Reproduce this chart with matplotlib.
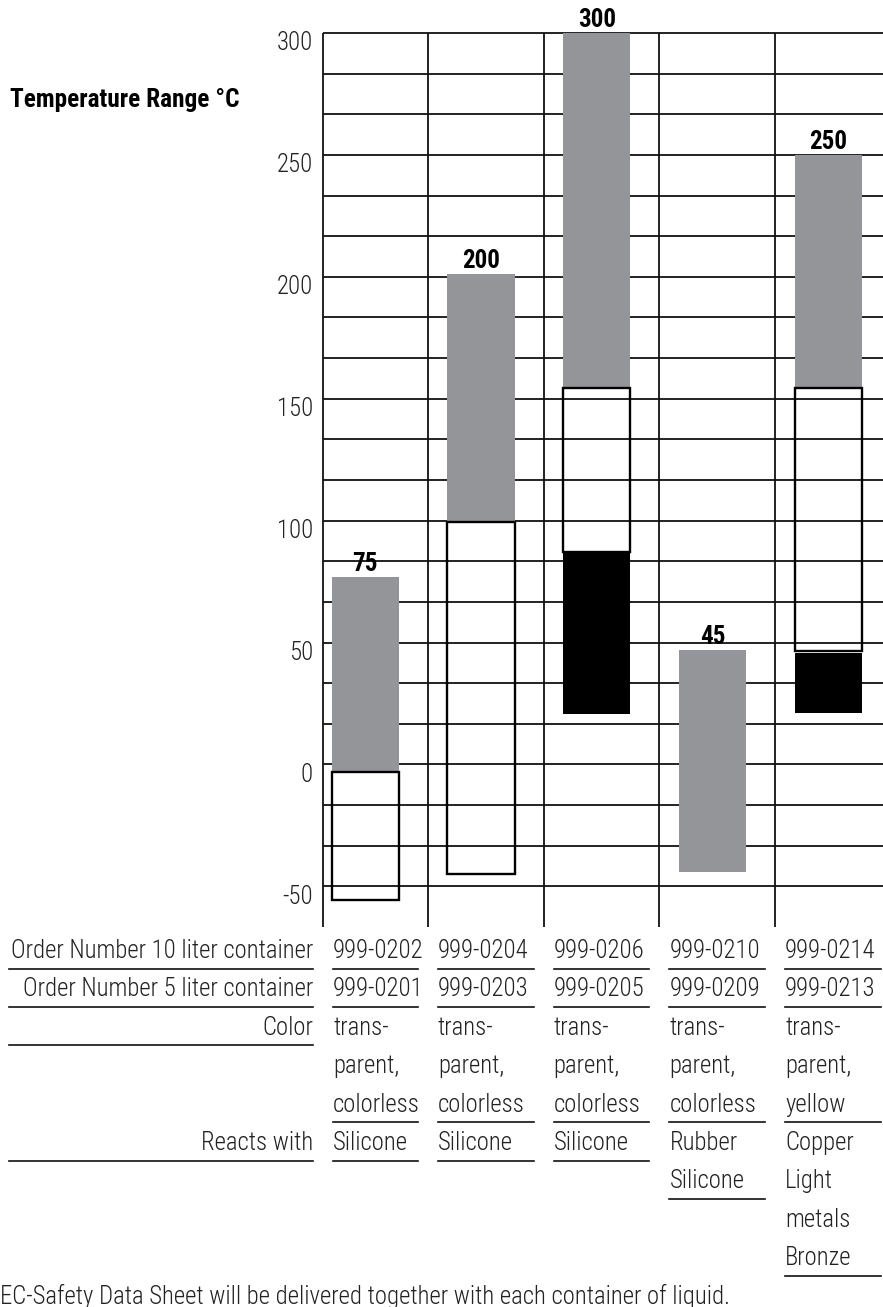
import numpy as np
import matplotlib
matplotlib.use("Agg")
import matplotlib.pyplot as plt
import matplotlib.transforms as mtransforms
from matplotlib.lines import Line2D
from matplotlib import font_manager

# pick the narrowest family that is installed
names = {f.name for f in font_manager.fontManager.ttflist}
family = 'DejaVu Sans'
for cand in ['Roboto Condensed', 'Liberation Sans Narrow', 'Open Sans Condensed', 'Noto Sans Condensed']:
    if cand in names:
        family = cand
        break
plt.rcParams['font.family'] = [family, 'DejaVu Sans']
plt.rcParams['font.stretch'] = 'condensed'

# ---- data ----
order_10l = ["999-0202", "999-0204", "999-0206", "999-0210", "999-0214"]
order_5l = ["999-0201", "999-0203", "999-0205", "999-0209", "999-0213"]
color_txt = [["trans-", "parent,", "colorless"],
             ["trans-", "parent,", "colorless"],
             ["trans-", "parent,", "colorless"],
             ["trans-", "parent,", "colorless"],
             ["trans-", "parent,", "yellow"]]
reacts = [["Silicone"], ["Silicone"], ["Silicone"],
          ["Rubber", "Silicone"], ["Copper", "Light", "metals", "Bronze"]]

max_label = [75, 200, 300, 45, 250]
gray_top = [77, 201, 300, 47, 250]
gray_low = [-3, 100, 154, -44, 154]
open_low = [-55.5, -45, 87, np.nan, 46.5]
open_high = [-3, 99.5, 154.5, np.nan, 154.5]
black_low = [np.nan, np.nan, 20.5, np.nan, 21]
black_high = [np.nan, np.nan, 87, np.nan, 45.8]
y_ticks = [300, 250, 200, 150, 100, 50, 0, -50]

W, H = 883, 1307
fig = plt.figure(figsize=(W / 100, H / 100), dpi=100)
renderer = fig.canvas.get_renderer()
LW = 'light'


def fx(px):
    return px / W


def fy(py):
    return 1 - py / H


def fit_size(txt, target_px, weight='normal', start=18):
    t = fig.text(0, 0, txt, fontsize=start, fontweight=weight)
    w = t.get_window_extent(renderer).width
    t.remove()
    return start * target_px / w


fs = min(fit_size("Order Number 10 liter container", 304, LW), 19.5)
fs_title = min(fit_size("Temperature Range °C", 230, 'bold'), 19)
fs_val = min(fit_size("300", 40, 'bold'), 18)

# chart area: 300 at y=33px, -66.7 at y=927px
ax = fig.add_axes([fx(323), fy(927), fx(883) - fx(323), (927 - 33) / H])
x0, x1 = 1 - 105 / 116, 4 + 108 / 116
ax.set_xlim(x0, x1)
ax.set_ylim(-200 / 3, 300)
ax.axis('off')

# grid
levels = np.linspace(-50, 300, 22)
ax.hlines(levels, x0, x1, color='#111111', lw=1.3, clip_on=False, zorder=1)
bounds = [x0, 1, 2, 3, 4]
ax.vlines(bounds, -200 / 3, 300, color='#111111', lw=1.3, clip_on=False, zorder=1)

# bars
idx = np.arange(5)
centers = idx + 0.46
bw = 0.58
gray_top = np.array(gray_top, float)
gray_low = np.array(gray_low, float)
ax.bar(centers, gray_top - gray_low, bottom=gray_low, width=bw,
       color='#949599', zorder=2, clip_on=False)

bl = np.array(black_low)
bh = np.array(black_high)
m = ~np.isnan(bl)
ax.bar(centers[m], (bh - bl)[m], bottom=bl[m], width=bw, color='black', zorder=3)

ol = np.array(open_low)
oh = np.array(open_high)
m = ~np.isnan(ol)
ax.bar(centers[m], (oh - ol)[m], bottom=ol[m], width=bw, fill=False,
       edgecolor='black', lw=1.7, zorder=4)

# value labels
for c, t, v in zip(centers, gray_top, max_label):
    ax.text(c, t, str(v), ha='center', va='bottom', fontsize=fs_val,
            fontweight='bold', clip_on=False, zorder=5,
            transform=ax.transData + mtransforms.ScaledTranslation(0, 1 / 100, fig.dpi_scale_trans))

# y labels (sit a little below their lines)
ytr = ax.get_yaxis_transform() + mtransforms.ScaledTranslation(-10 / 100, -10.5 / 100, fig.dpi_scale_trans)
for v in y_ticks:
    ax.text(0, v, str(v), ha='right', va='center', fontsize=fs, color='#222222',
            fontweight=LW, transform=ytr)

fig.text(fx(10), fy(100), "Temperature Range °C", fontsize=fs_title,
         fontweight='bold', va='center', ha='left')

# ---- table underneath ----
base = [958 + 38.4 * k for k in range(10)]
left_edge = [ax.transData.transform((b, 0))[0] + 10 for b in bounds]
right_edge = [ax.transData.transform((b, 0))[0] - 10 for b in bounds[1:]] + [W - 2]


def uline(xa, xb, py):
    fig.add_artist(Line2D([fx(xa), fx(xb)], [fy(py), fy(py)], color='#111111', lw=1.2))


def left_label(k, txt):
    fig.text(fx(313), fy(base[k]), txt, ha='right', va='baseline', fontsize=fs,
             fontweight=LW, color='#222222')
    uline(9, 313, base[k] + 10.5)


def col_cell(i, k, lines):
    for j, s in enumerate(lines):
        fig.text(fx(left_edge[i]), fy(base[k + j]), s, ha='left', va='baseline',
                 fontsize=fs, fontweight=LW, color='#222222')
    uline(left_edge[i], right_edge[i], base[k + len(lines) - 1] + 10.5)


left_label(0, "Order Number 10 liter container")
left_label(1, "Order Number 5 liter container")
left_label(2, "Color")
left_label(5, "Reacts with")

for i in range(5):
    col_cell(i, 0, [order_10l[i]])
    col_cell(i, 1, [order_5l[i]])
    col_cell(i, 2, color_txt[i])
    col_cell(i, 5, reacts[i])

fig.text(fx(0), fy(base[9]), "EC-Safety Data Sheet will be delivered together with each container of liquid.",
         ha='left', va='baseline', fontsize=fs, fontweight=LW, color='#222222')

fig.savefig("out.png", dpi=100)
